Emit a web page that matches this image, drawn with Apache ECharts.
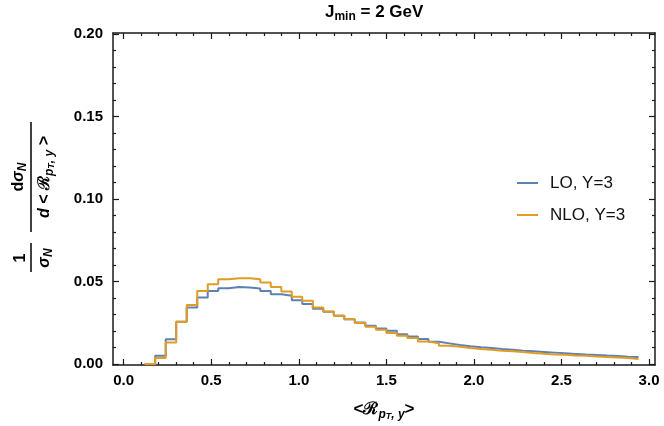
<!DOCTYPE html>
<html>
<head>
<meta charset="utf-8">
<script src="https://cdn.jsdelivr.net/npm/echarts@6/dist/echarts.min.js"></script>
<style>
  html, body { margin: 0; padding: 0; background: #fff; }
  #main { width: 664px; height: 426px; }
</style>
</head>
<body>
<div id="main"></div>
<script>
  // bin edges of the histogram (width 0.06)
  const binEdges = [0.12, 0.18, 0.24, 0.30, 0.36, 0.42, 0.48, 0.54, 0.60, 0.66,
    0.72, 0.78, 0.84, 0.90, 0.96, 1.02, 1.08, 1.14, 1.20, 1.26,
    1.32, 1.38, 1.44, 1.50, 1.56, 1.62, 1.68, 1.74, 1.80, 1.86,
    1.92, 1.98, 2.04, 2.10, 2.16, 2.22, 2.28, 2.34, 2.40, 2.46,
    2.52, 2.58, 2.64, 2.70, 2.76, 2.82, 2.88, 2.94];

  // LO, Y=3
  const loValues = [0, 0.0050, 0.0150, 0.0256, 0.0343, 0.0403, 0.0443, 0.0459, 0.0467, 0.0464,
    0.0458, 0.0443, 0.0423, 0.0413, 0.0387, 0.0363, 0.0335, 0.0316, 0.0292, 0.0272,
    0.0252, 0.0232, 0.0215, 0.0201, 0.0181, 0.0167, 0.0151, 0.0135, 0.0125, 0.0115,
    0.0107, 0.0101, 0.0097, 0.0091, 0.0087, 0.0080, 0.0077, 0.0073, 0.0069, 0.0065,
    0.0061, 0.0057, 0.0055, 0.0051, 0.0049, 0.0044, 0.0042];

  // NLO, Y=3
  const nloValues = [0, 0.0036, 0.0131, 0.0256, 0.0357, 0.0443, 0.0484, 0.0514, 0.0520, 0.0520,
    0.0514, 0.0494, 0.0467, 0.0440, 0.0407, 0.0383, 0.0343, 0.0318, 0.0292, 0.0272,
    0.0248, 0.0226, 0.0207, 0.0188, 0.0171, 0.0157, 0.0137, 0.0125, 0.0111, 0.0105,
    0.0097, 0.0091, 0.0087, 0.0080, 0.0077, 0.0073, 0.0067, 0.0062, 0.0058, 0.0056,
    0.0052, 0.0050, 0.0046, 0.0042, 0.0040, 0.0036, 0.0030];

  const xMajor = [0, 0.5, 1.0, 1.5, 2.0, 2.5, 3.0];
  const xMinor = [0.1, 0.2, 0.3, 0.4, 0.6, 0.7, 0.8, 0.9, 1.1, 1.2, 1.3, 1.4,
    1.6, 1.7, 1.8, 1.9, 2.1, 2.2, 2.3, 2.4, 2.6, 2.7, 2.8, 2.9];
  const yMajor = [0, 0.05, 0.10, 0.15, 0.20];
  const yMinor = [0.01, 0.02, 0.03, 0.04, 0.06, 0.07, 0.08, 0.09,
    0.11, 0.12, 0.13, 0.14, 0.16, 0.17, 0.18, 0.19];

  const FONT = "'Liberation Sans', Arial, sans-serif";
  const INK = '#1a1a1a';

  // histogram as step line: one point per left edge + the closing right edge
  function steps(vals) {
    let pts = vals.map((v, i) => [binEdges[i], v]);
    pts.push([binEdges[binEdges.length - 1], vals[vals.length - 1]]);
    return pts;
  }

  const X_MIN = -0.061, X_MAX = 3.034;
  const Y_MIN = -0.0006, Y_MAX = 0.2006;

  function xAxisCfg(pos, major, labels) {
    return {
      type: 'value', position: pos, min: X_MIN, max: X_MAX,
      splitLine: {show: false},
      axisLine: {show: major, onZero: false, lineStyle: {color: INK, width: 1.5}},
      axisTick: {show: true, inside: true, length: major ? 6 : 3,
        customValues: major ? xMajor : xMinor, lineStyle: {color: INK, width: 1.2}},
      axisLabel: {show: labels, customValues: xMajor, margin: 8,
        formatter: v => v.toFixed(1),
        fontFamily: FONT, fontWeight: 'bold', fontSize: 15, color: '#000'}
    };
  }

  function yAxisCfg(pos, major, labels) {
    return {
      type: 'value', position: pos, min: Y_MIN, max: Y_MAX,
      splitLine: {show: false},
      axisLine: {show: major, onZero: false, lineStyle: {color: INK, width: 1.5}},
      axisTick: {show: true, inside: true, length: major ? 6 : 3,
        customValues: major ? yMajor : yMinor, lineStyle: {color: INK, width: 1.2}},
      axisLabel: {show: labels, customValues: yMajor, margin: 10,
        formatter: v => v.toFixed(2),
        fontFamily: FONT, fontWeight: 'bold', fontSize: 15, color: '#000'}
    };
  }

  let xBottom = xAxisCfg('bottom', true, true);
  xBottom.name = '{a|<ℛ}{s|p}{t|T}{s|, y}{a|>}';
  xBottom.nameLocation = 'middle';
  xBottom.nameGap = 33;
  xBottom.nameTextStyle = {
    rich: {
      a: {fontFamily: FONT, fontWeight: 'bold', fontSize: 17, color: '#000'},
      s: {fontFamily: FONT, fontWeight: 'bold', fontStyle: 'italic', fontSize: 12, color: '#000', padding: [10, 0, 0, 0]},
      t: {fontFamily: FONT, fontWeight: 'bold', fontStyle: 'italic', fontSize: 9, color: '#000', padding: [14, 0, 0, 0]}
    }
  };

  const richY = {
    a: {fontFamily: FONT, fontWeight: 'bold', fontSize: 16, fill: '#000'},
    i: {fontFamily: FONT, fontWeight: 'bold', fontStyle: 'italic', fontSize: 16, fill: '#000'},
    s: {fontFamily: FONT, fontWeight: 'bold', fontStyle: 'italic', fontSize: 12, fill: '#000', padding: [9, 0, 0, 0]},
    t: {fontFamily: FONT, fontWeight: 'bold', fontStyle: 'italic', fontSize: 9, fill: '#000', padding: [13, 0, 0, 0]}
  };

  let chart = echarts.init(document.getElementById('main'), null, {renderer: 'canvas'});
  chart.setOption({
    animation: false,
    backgroundColor: '#fff',
    title: {
      text: '{a|J}{s|min}{a| = 2 GeV}',
      left: 325, top: 1, padding: 0,
      textStyle: {
        rich: {
          a: {fontFamily: FONT, fontWeight: 'bold', fontSize: 17, color: '#000'},
          s: {fontFamily: FONT, fontWeight: 'bold', fontSize: 12, color: '#000', padding: [10, 0, 0, 0]}
        }
      }
    },
    grid: {left: 113, right: 9, top: 33, bottom: 60},
    legend: {
      orient: 'vertical', left: 517, top: 174, padding: 0,
      itemWidth: 21, itemHeight: 2, itemGap: 14, icon: 'rect',
      textStyle: {fontFamily: FONT, fontSize: 17, color: '#111', lineHeight: 18, padding: [0, 0, 0, 7]},
      data: ['LO, Y=3', 'NLO, Y=3']
    },
    xAxis: [
      xBottom,
      xAxisCfg('bottom', false, false),
      xAxisCfg('top', true, false),
      xAxisCfg('top', false, false)
    ],
    yAxis: [
      yAxisCfg('left', true, true),
      yAxisCfg('left', false, false),
      yAxisCfg('right', true, false),
      yAxisCfg('right', false, false)
    ],
    series: [
      {
        name: 'LO, Y=3', type: 'line', step: 'end', symbol: 'none',
        data: steps(loValues),
        itemStyle: {color: '#5E81B5'},
        lineStyle: {color: '#5E81B5', width: 2}
      },
      {
        name: 'NLO, Y=3', type: 'line', step: 'end', symbol: 'none',
        data: steps(nloValues),
        itemStyle: {color: '#E19C24'},
        lineStyle: {color: '#E19C24', width: 2}
      }
    ],
    // rotated y-axis label: 1/σN · dσN / d<ℛ pT,y>
    graphic: [{
      type: 'group', x: 31, y: 199, rotation: Math.PI / 2,
      children: [
        {type: 'text', style: {text: '{a|1}', rich: richY, x: -59, y: -2, align: 'center', verticalAlign: 'bottom'}},
        {type: 'line', shape: {x1: -73, y1: 0, x2: -44, y2: 0}, style: {stroke: '#000', lineWidth: 1.5}},
        {type: 'text', style: {text: '{i|σ}{s|N}', rich: richY, x: -59, y: 3, align: 'center', verticalAlign: 'top'}},
        {type: 'line', shape: {x1: -33, y1: 0, x2: 77, y2: 0}, style: {stroke: '#000', lineWidth: 1.5}},
        {type: 'text', style: {text: '{a|d}{i|σ}{s|N}', rich: richY, x: 22, y: -2, align: 'center', verticalAlign: 'bottom'}},
        {type: 'text', style: {text: '{i|d}{a| < ℛ}{s|p}{t|T}{s|, y}{a| >}', rich: richY, x: 22, y: 3, align: 'center', verticalAlign: 'top'}}
      ]
    }]
  });
</script>
</body>
</html>
